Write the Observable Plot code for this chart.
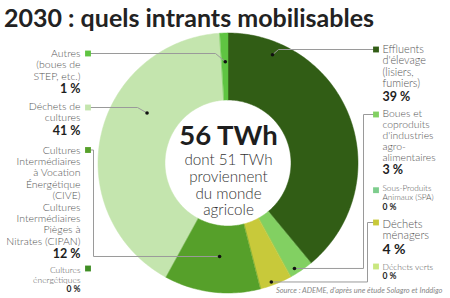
<!DOCTYPE html>
<html>
<head>
<meta charset="utf-8">
<script src="https://cdn.jsdelivr.net/npm/d3@7"></script>
<script src="https://cdn.jsdelivr.net/npm/@observablehq/plot@0.6"></script>
<style>
  html, body { margin: 0; padding: 0; background: #fff; }
  #chart { width: 450px; height: 298px; position: relative; overflow: hidden; font-family: Lato, sans-serif; }
  #chart h1 { margin: 0; height: 34px; box-sizing: border-box; padding: 4.5px 0 0 4px;
              font: 700 25px/25px Lato, sans-serif; color: #222; white-space: nowrap; }
  #chart svg { display: block; }
</style>
</head>
<body>
<div id="chart"><h1>2030 : quels intrants mobilisables</h1></div>
<script>
// Biomethane inputs available in 2030, share of the total energy (%)
const categories = [
  "Effluents d'élevage", "Boues et coproduits", "Sous-Produits Animaux",
  "Déchets ménagers", "Déchets verts", "Cultures énergétiques",
  "CIVE et CIPAN", "Déchets de cultures", "Autres"
];
const shares = [39, 3, 0, 4, 0, 0, 12, 41, 1];
const labels = [
  "Effluents\nd'élevage\n(lisiers,\nfumiers)",
  "Boues et\ncoproduits\nd'industries\nagro-\nalimentaires",
  "Sous-Produits\nAnimaux (SPA)",
  "Déchets\nménagers",
  "Déchets verts",
  "Cultures\nénergétiques",
  "Cultures\nIntermédiaires\nà Vocation\nÉnergétique\n(CIVE)\nCultures\nIntermédiaires\nPièges à\nNitrates (CIPAN)",
  "Déchets de\ncultures",
  "Autres\n(boues de\nSTEP, etc.)"
];
const totalTWh = 56;
const agriTWh = 51;
const centerLines = [`dont ${agriTWh} TWh`, "proviennent", "du monde", "agricole"];
const sourceText = "Source : ADEME, d'après une étude Solagro et Inddigo";

// Styling
const palette = ["#315d15", "#82d062", "#7dcd8d", "#c8c93a", "#c9e77f", "#3f8e24", "#56a02a", "#c4e5ae", "#5fc442"];

// Label layout (page pixels): square row, first-line baseline, font size, line height,
// percent baseline/size, leader dot position inside the slice (angle / ring fractions), elbows
const layout = [
  {side: "right", sq: 49,    base: 52,    fs: 10.9, lh: 11.6,  pBase: 100,   pFs: 12.5, dot: [0.157, 0.81], via: [[278, 49]]},
  {side: "right", sq: 114,   base: 116.2, fs: 10.4, lh: 11.2,  pBase: 173.8, pFs: 12.5, dot: [0.69, 0.91],  via: [[363, 114], [363, null]]},
  {side: "right", sq: 189.7, base: 190.7, fs: 8.2,  lh: 8.6,   pBase: 209,   pFs: 8.5},
  {side: "right", sq: 222,   base: 227,   fs: 11.2, lh: 12,    pBase: 253.7, pFs: 14,   dot: [0.62, 0.94],  via: [[367, 222], [367, null]]},
  {side: "right", sq: 266,   base: 269.5, fs: 8.5,  lh: 9,     pBase: 278.5, pFs: 8.5},
  {side: "left",  sq: 268,   base: 272.3, fs: 8.5,  lh: 10.2,  pBase: 291.7, pFs: 8.5},
  {side: "left",  sq: 149.5, base: 153.3, fs: 10.5, lh: 11.35, pBase: 257,   pFs: 12.5, dot: [0.46, 0.454], via: [[93, 149.5], [93, null]]},
  {side: "left",  sq: 107,   base: 109.5, fs: 10.5, lh: 11.5,  pBase: 134,   pFs: 12.5, dot: [0.63, 0.49],  via: [[137, 107]]},
  {side: "left",  sq: 53,    base: 56.7,  fs: 10.5, lh: 11.3,  pBase: 92.3,  pFs: 12.5, dot: [0.5, 0.58],   via: [[215, 53]]}
];
const cx = 228, cy = 163, rOuter = 130, rInner = 63;
const sqX = {left: 87.5, right: 375.5};
const textX = {left: 80, right: 382};

// Slice angles (clockwise from 12 o'clock)
const total = d3.sum(shares);
let acc = 0;
const slices = categories.map((key, i) => {
  const a0 = acc / total * 2 * Math.PI;
  acc += shares[i];
  return {key, i, a0, a1: acc / total * 2 * Math.PI};
});
const polar = (a, r) => [cx + r * Math.sin(a), cy - r * Math.cos(a)];

// Arc outline samples for each non-empty slice
const ring = slices.filter(s => s.a1 > s.a0).flatMap(s => {
  const n = Math.max(2, Math.ceil((s.a1 - s.a0) / (Math.PI / 180)) + 1);
  return d3.range(n).map(j => ({key: s.key, a: s.a0 + (s.a1 - s.a0) * j / (n - 1)}));
});

// Leader dots and lines
const dots = [];
const leaders = [];
slices.forEach((s, i) => {
  const L = layout[i];
  if (!L.dot || s.a1 <= s.a0) return;
  const a = s.a0 + (s.a1 - s.a0) * L.dot[0];
  const [x, y] = polar(a, rInner + (rOuter - rInner) * L.dot[1]);
  dots.push({key: s.key, x, y});
  const pts = [[sqX[L.side], L.sq], ...L.via.map(([vx, vy]) => [vx, vy == null ? y : vy]), [x, y]];
  pts.forEach(([px, py]) => leaders.push({key: s.key, x: px, y: py}));
});

// Category names: one multi-line text per category, first baseline at L.base
const nameMarks = categories.map((key, i) => {
  const L = layout[i];
  return Plot.text([labels[i]], {
    x: textX[L.side], y: L.base - 0.71 * L.lh, text: d => d,
    fontSize: L.fs, lineHeight: L.lh / L.fs, lineAnchor: "top",
    textAnchor: L.side === "left" ? "end" : "start", fill: "#555", fontWeight: 300
  });
});

// Percentages (single lines, baseline at L.pBase)
const pctRows = categories.map((key, i) => {
  const L = layout[i];
  return {side: L.side, text: `${shares[i]} %`, fs: L.pFs, x: textX[L.side], y: L.pBase - 0.32 * L.pFs};
});
const squares = categories.map((key, i) => ({key, x: sqX[layout[i].side], y: layout[i].sq}));
const pctText = side => Plot.text(pctRows.filter(d => d.side === side), {
  x: "x", y: "y", text: "text", fontSize: "fs",
  textAnchor: side === "left" ? "end" : "start", fill: "#1e1e1e", fontWeight: 700
});

const chart = Plot.plot({
  width: 450,
  height: 264,
  margin: 0,
  x: {domain: [0, 450], range: [0, 450], axis: null},
  y: {domain: [34, 298], range: [0, 264], axis: null},
  color: {type: "ordinal", domain: categories, range: palette},
  style: {background: "transparent", fontFamily: "Lato, sans-serif", overflow: "visible"},
  marks: [
    Plot.area(ring, {
      x1: d => polar(d.a, rOuter)[0], y1: d => polar(d.a, rOuter)[1],
      x2: d => polar(d.a, rInner)[0], y2: d => polar(d.a, rInner)[1],
      fill: "key", stroke: "key", strokeWidth: 0.5, z: "key"
    }),
    Plot.line(leaders, {x: "x", y: "y", z: "key", stroke: "#9a9a9a", strokeWidth: 1}),
    Plot.dot(dots, {x: "x", y: "y", r: 1.8, fill: "#111", stroke: null}),
    Plot.dot(squares, {x: "x", y: "y", symbol: "square", r: 3.3, fill: "key", stroke: null}),
    ...nameMarks,
    pctText("left"),
    pctText("right"),
    Plot.text([`${totalTWh} TWh`], {x: cx, y: 144.5 - 0.32 * 27.5, text: d => d, fontSize: 27.5, fontWeight: 700, fill: "#1e1e1e"}),
    Plot.text([centerLines.join("\n")], {x: cx, y: 164.5 - 0.71 * 16.8, text: d => d, fontSize: 15.2, lineHeight: 16.8 / 15.2, lineAnchor: "top", fontWeight: 300, fill: "#333"}),
    Plot.text([sourceText], {x: 442, y: 292 - 0.32 * 7.5, text: d => d, fontSize: 7.5, fontStyle: "italic", fill: "#888", textAnchor: "end"})
  ]
});
document.getElementById("chart").appendChild(chart);
</script>
</body>
</html>
